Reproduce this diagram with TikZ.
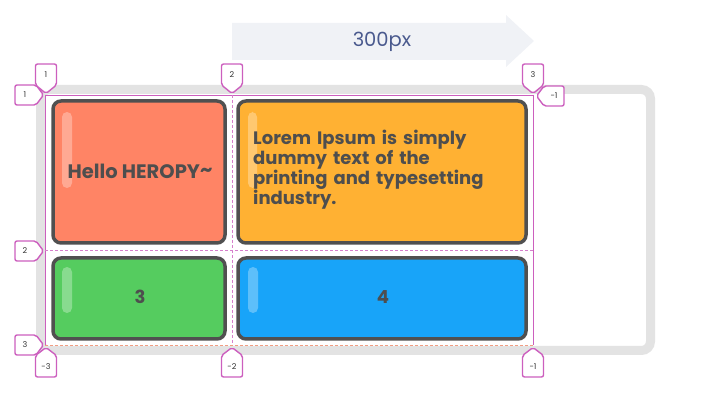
\documentclass[tikz,border=0pt]{standalone}
\usepackage{fontspec}
\setmainfont{Poppins}
\definecolor{mag}{HTML}{CC5FBE}
\definecolor{grayb}{HTML}{E3E3E3}
\definecolor{arrowc}{HTML}{F0F2F6}
\definecolor{txtblue}{HTML}{4A5A8E}
\definecolor{cellbd}{HTML}{505050}
\definecolor{txtd}{HTML}{4E4E4E}
\definecolor{coral}{HTML}{FF8465}
\definecolor{orng}{HTML}{FFB133}
\definecolor{grn}{HTML}{55CC5F}
\definecolor{blu}{HTML}{18A4F9}
\tikzset{
  cellbox/.style={draw=cellbd, line width=3.5pt, rounded corners=8pt},
  shine/.style={fill=white, fill opacity=0.3, rounded corners=5pt},
  tagbox/.style={draw=mag, line width=1.4pt, fill=white, rounded corners=2pt},
  taglbl/.style={font=\fontsize{8}{9}\selectfont, text=black!80, inner sep=0pt},
  gridsolid/.style={draw=mag, line width=0.9pt},
  griddash/.style={draw=mag!80, line width=0.7pt, dash pattern=on 3pt off 2pt},
  celltxt/.style={font=\fontsize{18}{20}\selectfont\bfseries, text=txtd, inner sep=0pt}
}
\begin{document}
\begin{tikzpicture}[x=1pt,y=-1pt]
\useasboundingbox (0,0) rectangle (710,411);
% width arrow
\fill[arrowc] (232,23) -- (506,23) -- (506,15) -- (534,41) -- (506,67) -- (506,60) -- (232,60) -- cycle;
\node[font=\fontsize{19.5}{20}\selectfont, text=txtblue] (w) at (382,42) {300px};
% gray container
\draw[grayb, line width=9pt, rounded corners=9pt] (40.5,89.5) rectangle (650.5,350.5);
% cells
\filldraw[cellbox, fill=coral] (53,101) rectangle (225,243);
\filldraw[cellbox, fill=orng] (238,101) rectangle (526,243);
\filldraw[cellbox, fill=grn] (53,258) rectangle (225,339);
\filldraw[cellbox, fill=blu] (238,258) rectangle (526,339);
% shines
\fill[shine] (62,112) rectangle (72,188);
\fill[shine] (248,112) rectangle (257,188);
\fill[shine] (62,267) rectangle (72,313);
\fill[shine] (248,267) rectangle (258,313);
% texts
\node[celltxt, font=\fontsize{19.5}{20}\selectfont\bfseries] (c1) at (140,171) {Hello HEROPY\raisebox{0.1em}{\textasciitilde}};
\node[celltxt, anchor=north west, align=left, text width=270pt] (c2) at (253,129.5) {Lorem Ipsum is simply\\dummy text of the\\printing and typesetting\\industry.};
\node[celltxt] (c3) at (140,297) {3};
\node[celltxt] (c4) at (383,297) {4};
% grid lines
\draw[gridsolid] (45,95) -- (533,95);
\draw[gridsolid] (45,95) -- (45,345);
\draw[gridsolid] (533,95) -- (533,345);
\draw[griddash] (232,95) -- (232,345);
\draw[griddash] (45,250) -- (533,250);
\draw[griddash, draw=orange!60!mag!70] (45,345) -- (533,345);
% top tags
\foreach \x/\l in {46/1,232/2,533/3}{
  \draw[tagbox] (\x-10.5,64) -- (\x+10.5,64) -- (\x+10.5,85) -- (\x,93.5) -- (\x-10.5,85) -- cycle;
  \node[taglbl] at (\x,74.5) {\l};
}
% left tags
\foreach \y/\l in {95/1,251/2,345/3}{
  \draw[tagbox] (15,\y-10) -- (36,\y-10) -- (43.5,\y) -- (36,\y+10) -- (15,\y+10) -- cycle;
  \node[taglbl] at (25,\y) {\l};
}
% bottom tags
\foreach \x/\l in {46/-3,232/-2,533/-1}{
  \draw[tagbox] (\x,347.5) -- (\x+10.5,355.5) -- (\x+10.5,377) -- (\x-10.5,377) -- (\x-10.5,355.5) -- cycle;
  \node[taglbl] at (\x,367) {\l};
}
% right tag
\draw[tagbox] (536.5,96) -- (544,86) -- (564,86) -- (564,106) -- (544,106) -- cycle;
\node[taglbl] at (554,96) {-1};
\end{tikzpicture}
\end{document}
